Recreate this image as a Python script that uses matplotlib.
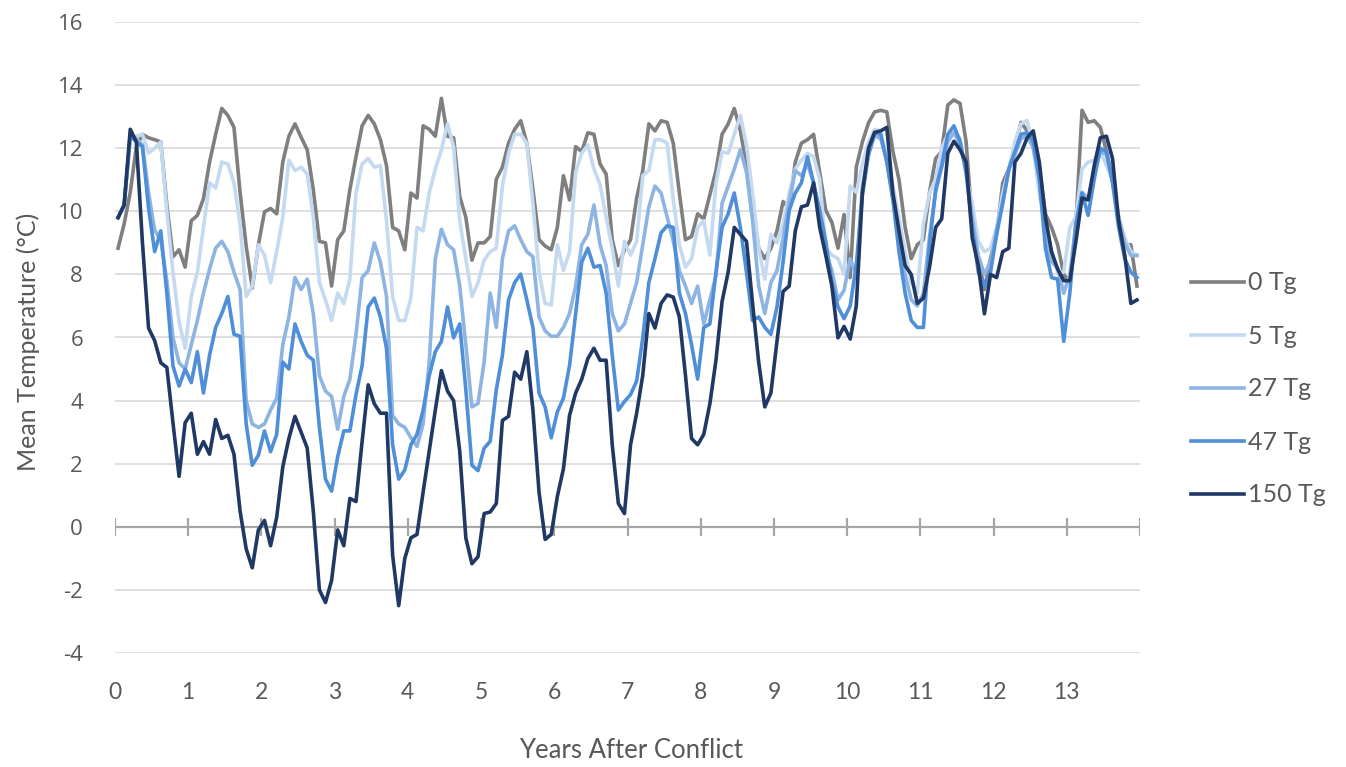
import matplotlib
matplotlib.use("Agg")
import matplotlib.pyplot as plt
import numpy as np

plt.rcParams["axes.unicode_minus"] = False

# monthly mean temperature (deg C), 14 years after conflict, one row per year
tg0 = [
    8.83, 9.6, 10.6, 12.05, 12.44, 12.33, 12.27, 12.2, 10.2, 8.56, 8.78, 8.23,
    9.7, 9.87, 10.4, 11.56, 12.44, 13.26, 13.04, 12.66, 10.6, 8.9, 7.57, 8.94,
    9.98, 10.09, 9.92, 11.56, 12.38, 12.77, 12.35, 11.95, 10.69, 9.05, 9.0, 7.63,
    9.1, 9.38, 10.69, 11.73, 12.71, 13.04, 12.77, 12.27, 11.45, 9.49, 9.38, 8.78,
    10.58, 10.42, 12.71, 12.6, 12.38, 13.58, 12.38, 12.33, 10.47, 9.81, 8.45, 9.0,
    9.0, 9.2, 11.02, 11.4, 12.16, 12.6, 12.87, 12.16, 10.69, 9.1, 8.9, 8.78,
    9.49, 11.13, 10.36, 12.05, 11.89, 12.49, 12.44, 11.5, 11.18, 9.1, 8.28, 8.78,
    9.1, 10.42, 11.29, 12.77, 12.55, 12.87, 12.82, 12.16, 10.58, 9.1, 9.2, 9.92,
    9.76, 10.52, 11.29, 12.44, 12.77, 13.26, 12.55, 11.45, 10.14, 8.83, 8.5, 8.83,
    9.38, 10.31, 10.09, 11.56, 12.16, 12.27, 12.44, 11.24, 10.03, 9.65, 8.83, 9.9,
    7.9, 11.4, 12.2, 12.8, 13.15, 13.2, 13.15, 11.9, 11.0, 9.5, 8.5, 8.94,
    9.1, 10.6, 11.67, 11.9, 13.37, 13.53, 13.42, 12.2, 9.6, 8.5, 7.52, 8.5,
    9.27, 10.9, 11.34, 12.0, 12.82, 12.55, 12.38, 11.34, 9.92, 9.49, 8.94, 8.0,
    7.74, 9.6, 13.2, 12.82, 12.87, 12.66, 11.9, 11.0, 9.81, 8.94, 8.94, 7.63,
]
tg5 = [
    9.8, 10.2, 12.3, 12.38, 12.44, 11.84, 12.0, 12.2, 10.0, 8.07, 6.5, 5.66,
    7.3, 8.07, 9.49, 10.9, 10.74, 11.56, 11.5, 10.9, 9.6, 7.3, 7.63, 8.94,
    8.61, 7.74, 8.72, 9.81, 11.62, 11.29, 11.4, 11.18, 9.81, 7.74, 7.19, 6.54,
    7.41, 7.08, 7.85, 10.58, 11.5, 11.67, 11.4, 11.45, 9.7, 7.3, 6.54, 6.54,
    7.25, 9.49, 9.38, 10.58, 11.34, 11.95, 12.77, 12.05, 9.7, 8.5, 7.3, 7.74,
    8.45, 8.72, 8.83, 10.8, 11.84, 12.44, 12.44, 12.16, 10.25, 8.07, 7.08, 7.03,
    8.94, 8.12, 8.72, 11.24, 11.84, 12.1, 11.34, 10.85, 9.81, 8.83, 7.63, 9.05,
    8.61, 9.05, 11.13, 11.29, 12.27, 12.27, 12.16, 10.36, 8.94, 8.23, 8.5, 9.49,
    9.7, 8.61, 10.9, 11.89, 11.84, 12.44, 13.04, 12.1, 10.58, 8.83, 7.85, 9.27,
    9.0, 9.6, 10.58, 11.34, 11.62, 11.84, 11.73, 11.02, 8.83, 8.61, 8.5, 8.0,
    10.8, 10.6, 11.5, 12.2, 12.6, 12.55, 11.67, 10.8, 9.81, 8.72, 7.74, 7.41,
    9.6, 10.58, 11.02, 12.0, 12.44, 12.49, 12.33, 11.13, 10.25, 9.05, 8.72, 8.83,
    9.49, 10.58, 11.34, 12.22, 12.77, 12.88, 12.0, 10.58, 9.49, 8.72, 8.07, 8.07,
    9.49, 9.81, 11.34, 11.56, 11.62, 11.89, 11.45, 11.02, 9.81, 9.16, 8.72, 8.61,
]
tg27 = [
    9.8, 10.2, 12.4, 12.3, 12.1, 10.6, 9.4, 9.1, 7.8, 6.0, 5.2, 5.0,
    5.77, 6.54, 7.41, 8.17, 8.83, 9.05, 8.72, 8.07, 7.52, 4.0, 3.26, 3.15,
    3.26, 3.7, 4.08, 5.77, 6.65, 7.9, 7.52, 7.85, 6.76, 4.79, 4.3, 4.13,
    3.09, 4.13, 4.68, 6.1, 7.9, 8.12, 9.0, 8.39, 7.3, 3.53, 3.26, 3.15,
    2.82, 2.55, 3.26, 5.22, 8.5, 9.43, 8.94, 8.78, 7.63, 5.77, 3.8, 3.91,
    5.22, 7.41, 6.32, 8.5, 9.38, 9.54, 9.1, 8.72, 8.56, 6.65, 6.21, 6.04,
    6.04, 6.32, 6.76, 7.63, 8.94, 9.27, 10.2, 8.94, 8.28, 6.76, 6.21, 6.43,
    7.08, 7.74, 8.94, 10.14, 10.8, 10.58, 9.81, 9.05, 8.12, 7.63, 7.08, 7.63,
    6.43, 7.19, 7.96, 10.25, 10.8, 11.34, 11.95, 11.24, 9.7, 7.63, 6.76, 7.74,
    8.12, 9.16, 10.31, 11.29, 11.13, 11.5, 10.9, 9.92, 8.72, 8.12, 7.19, 7.5,
    8.5, 8.0, 10.8, 11.8, 12.4, 12.3, 11.6, 10.4, 9.0, 8.0, 7.2, 7.0,
    7.4, 9.2, 10.6, 11.4, 12.2, 12.5, 12.1, 11.3, 9.8, 8.6, 8.0, 8.4,
    9.4, 10.3, 11.3, 11.8, 12.3, 12.4, 12.0, 11.0, 9.2, 8.4, 8.2, 7.4,
    8.0, 9.6, 10.6, 10.4, 11.2, 11.9, 11.8, 10.9, 9.8, 9.0, 8.6, 8.6,
]
tg47 = [
    9.8, 10.2, 12.4, 12.2, 12.05, 10.1, 8.72, 9.38, 7.4, 5.1, 4.46, 5.0,
    4.57, 5.55, 4.24, 5.44, 6.32, 6.76, 7.3, 6.1, 6.04, 3.26, 1.95, 2.27,
    3.04, 2.38, 2.93, 5.22, 5.0, 6.43, 5.88, 5.44, 5.28, 3.15, 1.51, 1.13,
    2.22, 3.04, 3.04, 4.19, 5.11, 6.97, 7.25, 6.65, 5.66, 2.6, 1.51, 1.8,
    2.6, 2.93, 3.7, 4.79, 5.55, 5.88, 6.97, 5.99, 6.43, 4.35, 1.95, 1.78,
    2.49, 2.71, 4.35, 5.44, 7.19, 7.74, 8.01, 7.19, 6.32, 4.24, 3.8, 2.82,
    3.64, 4.08, 5.11, 6.76, 8.39, 8.83, 8.23, 8.28, 7.41, 5.44, 3.7, 3.97,
    4.19, 4.62, 5.99, 7.74, 8.5, 9.32, 9.54, 9.49, 7.41, 6.76, 5.77, 4.68,
    6.32, 6.43, 8.07, 9.49, 9.92, 10.58, 9.49, 8.07, 6.54, 6.65, 6.32, 6.1,
    6.97, 8.39, 10.03, 10.58, 10.9, 11.73, 10.9, 10.03, 9.05, 7.74, 6.97, 6.6,
    7.0, 8.3, 10.5, 11.8, 12.5, 12.44, 11.56, 10.36, 8.72, 7.41, 6.54, 6.32,
    6.32, 8.94, 10.69, 11.45, 12.44, 12.71, 12.22, 11.24, 9.49, 8.07, 7.63, 8.07,
    9.27, 10.25, 11.34, 11.9, 12.44, 12.49, 12.22, 11.02, 8.83, 7.9, 7.85, 5.88,
    7.41, 9.6, 10.58, 9.87, 11.02, 12.0, 11.89, 10.9, 9.49, 8.5, 8.07, 7.9,
]
tg150 = [
    9.8, 10.2, 12.6, 12.2, 9.0, 6.3, 5.9, 5.2, 5.05, 3.3, 1.6, 3.3,
    3.6, 2.3, 2.7, 2.3, 3.4, 2.8, 2.9, 2.3, 0.5, -0.7, -1.3, -0.1,
    0.2, -0.6, 0.3, 1.9, 2.8, 3.5, 3.0, 2.5, 0.5, -2.0, -2.4, -1.7,
    -0.1, -0.6, 0.9, 0.8, 2.7, 4.5, 3.9, 3.6, 3.6, -0.9, -2.5, -1.0,
    -0.35, -0.24, 1.1, 2.4, 3.7, 4.95, 4.3, 4.0, 2.4, -0.35, -1.17, -0.95,
    0.42, 0.47, 0.74, 3.37, 3.5, 4.9, 4.68, 5.55, 3.7, 1.1, -0.4, -0.24,
    0.96, 1.84, 3.53, 4.24, 4.68, 5.33, 5.66, 5.28, 5.28, 2.6, 0.74, 0.42,
    2.6, 3.6, 4.8, 6.76, 6.3, 7.08, 7.35, 7.28, 6.65, 4.8, 2.8, 2.6,
    2.93, 3.9, 5.28, 7.14, 8.07, 9.49, 9.27, 9.05, 7.08, 5.22, 3.8, 4.24,
    5.88, 7.46, 7.63, 9.38, 10.14, 10.2, 10.9, 9.49, 8.6, 7.63, 5.99, 6.35,
    5.95, 7.0, 10.6, 12.0, 12.5, 12.55, 12.66, 10.58, 9.38, 8.28, 8.0, 7.08,
    7.25, 8.23, 9.49, 9.76, 11.84, 12.22, 11.95, 11.56, 9.16, 8.28, 6.75, 8.0,
    7.9, 8.72, 8.83, 11.56, 11.84, 12.33, 12.55, 11.56, 9.81, 8.72, 8.17, 7.8,
    7.8, 9.05, 10.42, 10.36, 11.45, 12.33, 12.38, 11.67, 9.7, 8.61, 7.08, 7.19,
]

labels = ["0 Tg", "5 Tg", "27 Tg", "47 Tg", "150 Tg"]
colors = ["#7f7f7f", "#c5d9f1", "#8db4e2", "#4f8ed8", "#1f3864"]
year_ticks = list(range(14))

TEXT = "#595959"

fig = plt.figure(figsize=(13.46, 7.67), dpi=100)
W, H = 1346, 767
ax = fig.add_axes([115 / W, 1 - 653 / H, 1025 / W, 631 / H])

months = (np.arange(len(tg0)) + 0.5) / 12
for vals, lab, col in zip([tg0, tg5, tg27, tg47, tg150], labels, colors):
    ax.plot(months, vals, color=col, lw=2.6, label=lab, solid_joinstyle="round")

ax.set_xlim(0, 14)
ax.set_ylim(-4, 16)
ax.set_yticks(range(-4, 17, 2))
ax.grid(axis="y", color="#d9d9d9", lw=1.2)
ax.set_axisbelow(True)
for s in ax.spines.values():
    s.set_visible(False)

# horizontal axis crosses at zero, with cross tick marks
ax.axhline(0, color="#a6a6a6", lw=1.6, zorder=1)
ax.vlines(range(15), -0.28, 0.28, color="#a6a6a6", lw=1.6, zorder=1)

ax.set_xticks(year_ticks)
ax.set_xticklabels([str(t) for t in year_ticks], fontfamily="Lato", fontsize=16.5, color=TEXT)
ax.tick_params(axis="x", length=0, pad=21)
ax.tick_params(axis="y", length=0, pad=23, labelsize=16, labelcolor=TEXT)
for t in ax.get_yticklabels():
    t.set_fontfamily("Open Sans")

fig.text(631 / W, 1 - 750 / H, "Years After Conflict", ha="center", va="center",
         fontfamily="Lato", fontsize=18.5, color=TEXT)
fig.text(28 / W, 1 - 342 / H, "Mean Temperature (°C)", ha="center", va="center",
         rotation=90, fontfamily="Lato", fontsize=18, color=TEXT)

leg = fig.legend(loc="center left", bbox_to_anchor=(1191 / W, 1 - 389 / H),
                 frameon=False, prop={"family": "Lato", "size": 18},
                 handlelength=2.1, handletextpad=0.2, labelspacing=1.2,
                 borderpad=0, borderaxespad=0)
for t in leg.get_texts():
    t.set_color(TEXT)

fig.savefig("out.png", dpi=100)
